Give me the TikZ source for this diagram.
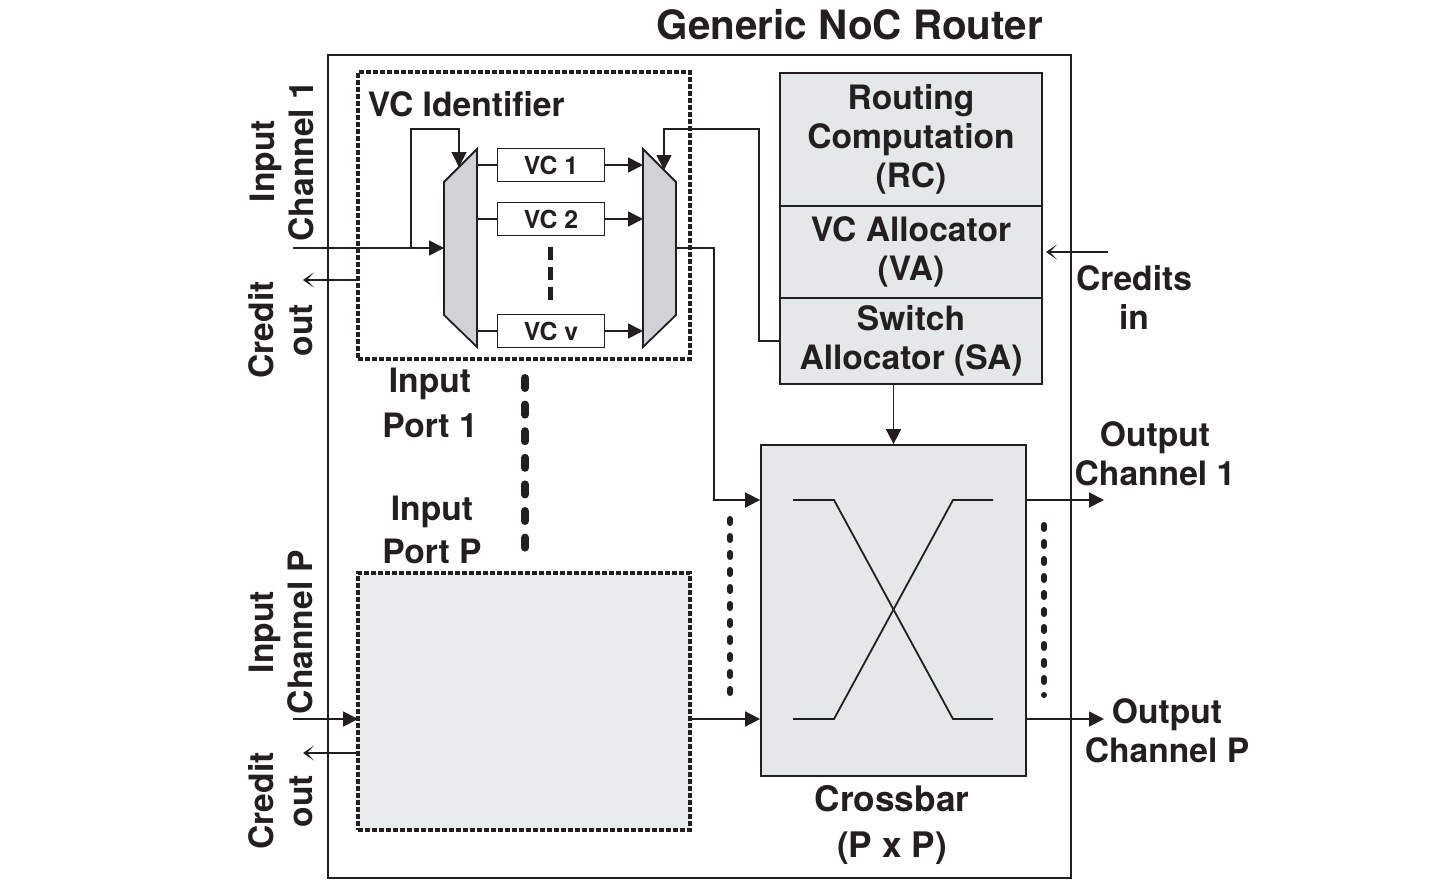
\documentclass[tikz,border=0pt]{standalone}
\usepackage{fontspec}
\setmainfont{TeX Gyre Heros}
\usetikzlibrary{arrows.meta}
\definecolor{muxgray}{HTML}{CFD3D6}
\definecolor{blkgray}{HTML}{E5E8E9}
\definecolor{portgray}{HTML}{E9EAEC}
\definecolor{ink}{HTML}{231F20}

\begin{document}
\begin{tikzpicture}[x=0.5pt, y=-0.5pt, color=ink, line width=0.9pt,
	lbl/.style={font=\fontsize{16.8}{19.5}\selectfont\bfseries, align=center, inner sep=0pt},
	blk/.style={lbl, draw, fill=blkgray, minimum width=131pt, outer sep=0pt},
	vcbox/.style={draw, fill=white, minimum width=53.5pt, minimum height=16.5pt, inner sep=0pt, font=\fontsize{12.4}{14}\selectfont\bfseries},
	portbox/.style={draw, dash pattern=on 2.5pt off 1pt, line width=1.8pt, inner sep=0pt, outer sep=0pt, minimum width=166pt},
	tri/.style={-{Triangle[length=7.5pt, width=7.5pt]}},
	barb/.style={-{Stealth[length=5.5pt, width=7.5pt, inset=3.5pt]}},
	bigdash/.style={line width=4pt, line cap=round, dash pattern=on 5pt off 8.3pt},
	dots/.style={line width=3pt, line cap=round, dash pattern=on 2pt off 6.5pt}]
			\useasboundingbox (0,0) rectangle (1446,895);

			\draw (699.5, 466.5) 	node[draw, minimum width=371.5pt, minimum height=411.5pt, inner sep=0pt] 	(router) 	{};
			\draw (850, 25) 	node[lbl, font=\fontsize{20.2}{24}\selectfont\bfseries] 	(title) 	{Generic NoC Router};

			\draw (524, 215.5) 	node[portbox, minimum height=143.5pt] 			(port1) 	{};
			\draw (524, 701.5) 	node[portbox, fill=portgray, minimum height=128.5pt] 	(portP) 	{};
			\draw (367, 104) 	node[lbl, anchor=west] 		(vcid) 		{VC Identifier};
			\draw (430, 403) 	node[lbl, font=\fontsize{16.8}{22.5}\selectfont\bfseries] 	(port1lbl) 	{Input\\Port 1};
			\draw (432, 530) 	node[lbl, font=\fontsize{16.8}{21.5}\selectfont\bfseries] 	(portPlbl) 	{Input\\Port P};

			\draw (551, 165) 	node[vcbox] 	(vc1) 		{VC 1};
			\draw (551, 219) 	node[vcbox] 	(vc2) 		{VC 2};
			\draw (551, 331) 	node[vcbox] 	(vcv) 		{VC v};

			\draw[fill=muxgray] (444, 182) -- (477, 149) -- (477, 347) -- (444, 315) -- cycle;
			\draw[fill=muxgray] (643, 149) -- (676, 182) -- (676, 315) -- (643, 347) -- cycle;
			\coordinate (dmx-in) 	at (444, 248);
			\coordinate (dmx-sel) 	at (459, 167);
			\coordinate (dmx-out) 	at (477, 248);
			\coordinate (mux-in) 	at (643, 248);
			\coordinate (mux-sel) 	at (664, 170);
			\coordinate (mux-out) 	at (676, 248);

			\draw (911, 139.5) 	node[blk, minimum height=66.5pt] 	(rc) 		{Routing\\Computation\\(RC)};
			\draw (911, 252) 	node[blk, minimum height=46pt] 		(va) 		{VC Allocator\\(VA)};
			\draw (911, 341) 	node[blk, minimum height=43pt] 		(sa) 		{Switch\\Allocator (SA)};

			\draw (893.5, 610.5) 	node[draw, fill=blkgray, minimum width=132.5pt, minimum height=165.5pt, inner sep=0pt] 	(xbar) 	{};
			\draw (793, 500) -- (834, 500) -- (953, 719) -- (993, 719);
			\draw (793, 719) -- (834, 719) -- (953, 500) -- (993, 500);
			\draw (892, 825) 	node[lbl, font=\fontsize{17.6}{23}\selectfont\bfseries] 	(xbarlbl) 	{Crossbar\\(P x P)};

			\draw (282, 161) 	node[lbl, rotate=90] 	(in1lbl) 	{Input\\Channel 1};
			\draw (281, 330) 	node[lbl, rotate=90] 	(co1lbl) 	{Credit\\out};
			\draw (281, 632) 	node[lbl, rotate=90] 	(inPlbl) 	{Input\\Channel P};
			\draw (281, 801) 	node[lbl, rotate=90] 	(coPlbl) 	{Credit\\out};
			\draw (1155, 454) 	node[lbl] 	(out1lbl) 	{Output\\Channel 1};
			\draw (1167, 731) 	node[lbl] 	(outPlbl) 	{Output\\Channel P};
			\draw (1134, 297) 	node[lbl] 	(crinlbl) 	{Credits\\in};

			\coordinate (in1) 	at (293, 248);
			\coordinate (br1) 	at (411, 248);
			\coordinate (co1) 	at (303, 280);
			\coordinate (inP) 	at (293, 719);
			\coordinate (coP) 	at (303, 753);
			\coordinate (out1) 	at (1104, 500);
			\coordinate (outP) 	at (1104, 719);
			\coordinate (crin) 	at (1108, 252);

			\draw[tri] (in1) -- (dmx-in);
			\draw[tri] (br1) |- (459, 129) -- (dmx-sel);
			\draw[barb] (port1.west |- co1) -- (co1);
			\draw (dmx-out |- vc1) -- (vc1.west);
			\draw (dmx-out |- vc2) -- (vc2.west);
			\draw (dmx-out |- vcv) -- (vcv.west);
			\draw[tri] (vc1.east) -- (mux-in |- vc1);
			\draw[tri] (vc2.east) -- (mux-in |- vc2);
			\draw[tri] (vcv.east) -- (mux-in |- vcv);
			\draw[tri] (sa.west) -| (759, 129) -| (mux-sel);
			\draw[tri] (mux-out) -| (714, 500) -- (xbar.west |- out1);
			\draw[tri] (inP) -- (portP.west |- inP);
			\draw[barb] (portP.west |- coP) -- (coP);
			\draw[tri] (portP.east |- inP) -- (xbar.west |- inP);
			\draw[tri] (xbar.east |- out1) -- (out1);
			\draw[tri] (xbar.east |- outP) -- (outP);
			\draw[tri] (sa.south -| xbar.north) -- (xbar.north);
			\draw[barb] (crin) -- ([xshift=2pt]va.east);

			\draw[line width=2.5pt, dash pattern=on 6.5pt off 3.5pt] (550, 247) -- (550, 301);
			\draw[bigdash] (525, 378) -- (525, 558);
			\draw[dots] (730, 519) -- (730, 703);
			\draw[dots] (1044, 525) -- (1044, 695);
		\end{tikzpicture}
\end{document}
